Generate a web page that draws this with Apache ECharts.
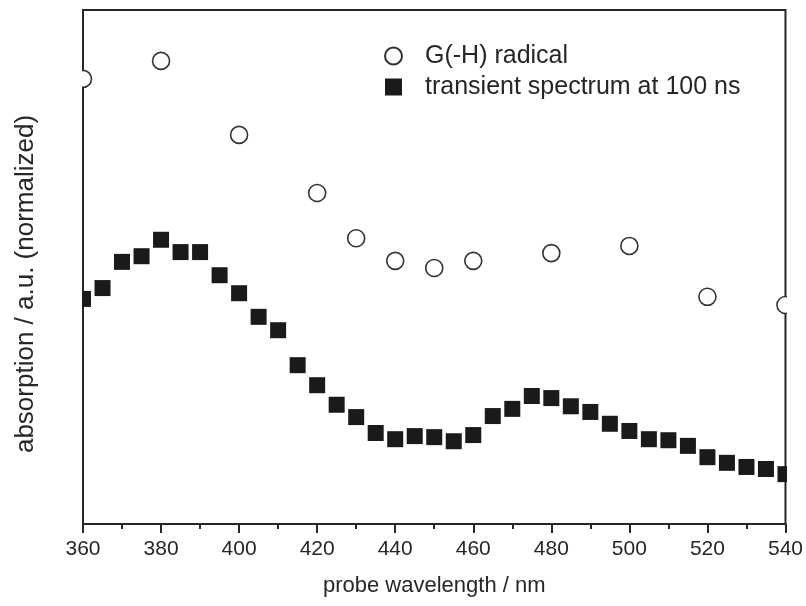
<!DOCTYPE html>
<html>
<head>
<meta charset="utf-8">
<script src="https://cdn.jsdelivr.net/npm/echarts@6/dist/echarts.min.js"></script>
<style>
  html, body { margin: 0; padding: 0; background: #fff; }
  #chart { width: 806px; height: 606px; }
</style>
</head>
<body>
<div id="chart"></div>
<script>
// G(-H) radical (open circles)
var radicalWl = [360, 380, 400, 420, 430, 440, 450, 460, 480, 500, 520, 540];
var radicalAbs = [86.6, 90.1, 75.7, 64.4, 55.6, 51.2, 49.8, 51.2, 52.7, 54.1, 44.2, 42.6];

// transient spectrum at 100 ns (filled squares)
var transWl = [360, 365, 370, 375, 380, 385, 390, 395, 400, 405, 410, 415, 420, 425, 430, 435, 440, 445, 450,
  455, 460, 465, 470, 475, 480, 485, 490, 495, 500, 505, 510, 515, 520, 525, 530, 535, 540];
var transAbs = [43.8, 45.9, 51.0, 52.1, 55.3, 52.9, 52.9, 48.4, 44.9, 40.3, 37.7, 30.9, 27.0, 23.2, 20.8, 17.7, 16.5, 17.1, 16.9,
  16.1, 17.3, 21.0, 22.4, 24.9, 24.5, 22.9, 21.8, 19.5, 18.1, 16.5, 16.3, 15.2, 13.0, 11.9, 11.1, 10.7, 9.7];

var xTicks = [360, 380, 400, 420, 440, 460, 480, 500, 520, 540];

function pairs(xs, ys) {
  var out = [];
  for (var i = 0; i < xs.length; i++) out.push([xs[i], ys[i]]);
  return out;
}

var font = 'Liberation Sans, Arial, sans-serif';
var ink = '#262626';

var myChart = echarts.init(document.getElementById('chart'));
var option = {
  backgroundColor: '#fff',
  animation: false,
  grid: {
    left: 83, right: 20, top: 10, bottom: 82,
    show: true, borderColor: ink, borderWidth: 2, backgroundColor: 'transparent'
  },
  legend: {
    orient: 'vertical',
    left: 379, top: 38,
    itemWidth: 17, itemHeight: 17, itemGap: 5,
    textStyle: { fontFamily: font, fontSize: 25, color: ink, padding: [0, 0, 0, 18], lineHeight: 26 },
    data: ['G(-H) radical', 'transient spectrum at 100 ns']
  },
  xAxis: {
    type: 'value',
    min: xTicks[0], max: xTicks[xTicks.length - 1], interval: 20,
    name: 'probe wavelength / nm',
    nameLocation: 'middle', nameGap: 51,
    nameTextStyle: { fontFamily: font, fontSize: 22, color: ink },
    axisLine: { show: true, lineStyle: { color: ink, width: 2 } },
    axisTick: { show: true, inside: false, length: 9, lineStyle: { color: ink, width: 2 } },
    minorTick: { show: true, splitNumber: 2, length: 5, lineStyle: { color: ink, width: 2 } },
    axisLabel: { margin: 15, fontFamily: font, fontSize: 21, color: ink },
    splitLine: { show: false }
  },
  yAxis: {
    type: 'value', min: 0, max: 100,
    axisLine: { show: false }, axisTick: { show: false },
    axisLabel: { show: false }, splitLine: { show: false }
  },
  graphic: [
    // white masks so markers sitting on the frame are cut at the plot edge
    { type: 'rect', z: 10, shape: { x: 0, y: 12, width: 82, height: 510 }, style: { fill: '#fff' } },
    { type: 'rect', z: 10, shape: { x: 787, y: 12, width: 19, height: 510 }, style: { fill: '#fff' } },
    {
      type: 'text', z: 11,
      x: 26, y: 284, rotation: Math.PI / 2,
      style: {
        text: 'absorption / a.u. (normalized)',
        font: '26px ' + font, fill: ink,
        align: 'center', verticalAlign: 'middle'
      }
    }
  ],
  series: [{
    name: 'G(-H) radical',
    type: 'scatter',
    symbol: 'circle', symbolSize: 17,
    clip: true,
    itemStyle: { color: '#fff', borderColor: '#333', borderWidth: 1.6, opacity: 1 },
    data: pairs(radicalWl, radicalAbs)
  }, {
    name: 'transient spectrum at 100 ns',
    type: 'scatter',
    symbol: 'rect', symbolSize: 16,
    clip: true,
    itemStyle: { color: '#1a1a1a', opacity: 1 },
    data: pairs(transWl, transAbs)
  }]
};
myChart.setOption(option);
</script>
</body>
</html>
